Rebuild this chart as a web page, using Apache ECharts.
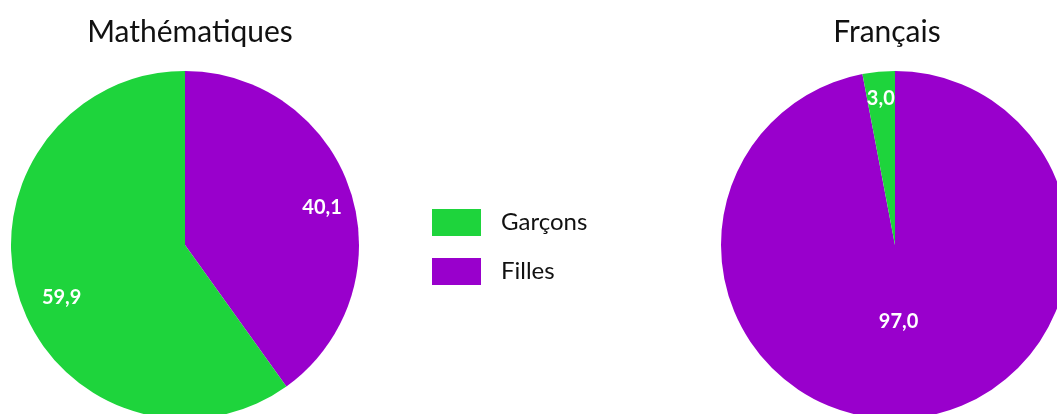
<!DOCTYPE html>
<html><head><meta charset="utf-8">
<script src="https://cdn.jsdelivr.net/npm/echarts@6/dist/echarts.min.js"></script>
<style>html,body{margin:0;padding:0;background:#fff}#c{width:1057px;height:414px}</style>
</head><body><div id="c"></div>
<script>
const categories = ['Garçons', 'Filles'];
const subjects = ['Mathématiques', 'Français'];
const mathValues = [59.9, 40.1];
const frenchValues = [3.0, 97.0];
const colors = {'Garçons': '#1ED43C', 'Filles': '#9900CC'};

const FONT = 'Lato, "Open Sans", sans-serif';
function mkData(vals){
  // drawn clockwise from 12 o'clock: Filles first, then Garçons
  return [1, 0].map(i => ({name: categories[i], value: vals[i], itemStyle: {color: colors[categories[i]]}}));
}
function fmt(p){ return p.value.toFixed(1).replace('.', ','); }
const R = 174;
function pieSeries(vals, cx){
  return {
    type: 'pie', center: [cx, 245], radius: [0, R], startAngle: 90, clockwise: true,
    silent: true, animation: false, label: {show: false}, labelLine: {show: false},
    itemStyle: {borderWidth: 0}, emphasis: {disabled: true},
    data: mkData(vals)
  };
}
// label layers (transparent): each places one slice's label at radial distance dist, nudged by [dx, dy]
function labelSeries(vals, cx, dists, nudges){
  const d = mkData(vals).map(it => ({name: it.name, value: it.value}));
  return dists.map((dist, k) => ({
    type: 'pie', center: [cx + nudges[k][0], 245 + nudges[k][1]], radius: [0, 2 * dist], startAngle: 90, clockwise: true,
    silent: true, animation: false, labelLine: {show: false}, emphasis: {disabled: true},
    label: {position: 'inside', formatter: fmt, color: '#fff', fontFamily: FONT, fontWeight: 'bold', fontSize: 20},
    itemStyle: {color: 'rgba(0,0,0,0)'},
    data: d.map((it, j) => Object.assign({}, it, {label: {show: j === k}}))
  }));
}
const chart = echarts.init(document.getElementById('c'), null, {renderer: 'canvas'});
chart.setOption({
  animation: false,
  title: [
    {text: subjects[0], left: 185, top: 12, textAlign: 'center', textStyle: {fontFamily: FONT, fontWeight: 'normal', fontSize: 30, color: '#111'}},
    {text: subjects[1], left: 882, top: 12, textAlign: 'center', textStyle: {fontFamily: FONT, fontWeight: 'normal', fontSize: 30, color: '#111'}}
  ],
  color: [colors['Garçons'], colors['Filles']],
  legend: {
    orient: 'vertical', left: 427, top: 204, itemWidth: 49, itemHeight: 27, itemGap: 22,
    icon: 'rect', selectedMode: false,
    data: categories.map(c => ({name: c, itemStyle: {color: colors[c]}})),
    textStyle: {fontFamily: FONT, fontSize: 24, color: '#111', padding: [0, 0, 0, 15]}
  },
  series: [
    pieSeries(mathValues, 185),
    pieSeries(frenchValues, 895),
    ...labelSeries(mathValues, 185, [141, 135], [[0, 7], [8, 10]]),
    ...labelSeries(frenchValues, 895, [77, 148], [[-4, -3], [0, 4]])
  ]
});
</script></body></html>
